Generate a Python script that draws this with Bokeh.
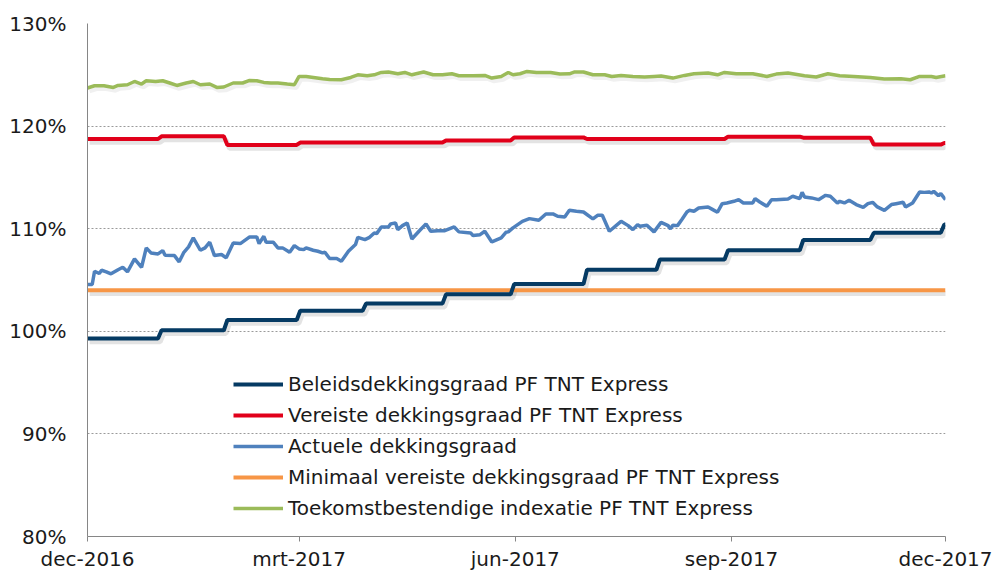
import pandas as pd
from bokeh.plotting import figure
from bokeh.models import (ColumnDataSource, Legend, LegendItem, FixedTicker,
                          PrintfTickFormatter, Range1d, CustomJSTickFormatter)
from bokeh.transform import dodge
from bokeh.embed import file_html
from bokeh.resources import INLINE

# ---------------- data ----------------
START = "2016-12-01"
END = "2017-12-01"
x_tick_dates = ["2016-12-01", "2017-03-01", "2017-06-01", "2017-09-01", "2017-12-01"]
x_tick_labels = ["dec-2016", "mrt-2017", "jun-2017", "sep-2017", "dec-2017"]
y_ticks = [80, 90, 100, 110, 120, 130]

# days after START where the monthly levels change
step_days = [30, 58, 89, 117, 151, 180, 211, 242, 271, 303, 333, 363]
beleid = [99.3, 100.1, 101.1, 102.0, 102.7, 103.6, 104.6, 106.0, 107.0, 107.9, 108.9, 109.6, 110.4]
vereist = [118.74, 119.0, 118.16, 118.4, 118.4, 118.6, 118.9, 118.74, 118.74, 118.97, 118.87, 118.2, 118.35]
minimaal = 104.0

actuele_days = [0, 2, 3, 5, 6, 8, 10, 13, 15, 17, 20, 23, 25, 27, 30, 32, 33, 37, 39, 41,
                43, 45, 48, 50, 52, 54, 57, 59, 62, 65, 69, 72, 73, 75, 76, 79, 81, 83, 86, 88,
                90, 92, 93, 96, 98, 100, 101, 103, 106, 108, 111, 114, 115, 118, 120, 122, 123, 125, 128, 129,
                131, 132, 134, 136, 138, 141, 144, 146, 149, 152, 156, 158, 163, 164, 167, 169, 172, 176, 178, 179,
                181, 185, 188, 192, 195, 198, 200, 203, 205, 208, 211, 215, 217, 219, 222, 227, 230, 232, 234, 235,
                238, 241, 244, 247, 248, 249, 251, 253, 255, 256, 258, 260, 264, 266, 268, 270, 272, 275, 277, 279,
                283, 284, 286, 289, 291, 293, 298, 300, 303, 304, 305, 308, 311, 314, 316, 319, 320, 322, 324, 327,
                330, 332, 334, 336, 339, 342, 344, 347, 348, 351, 354, 356, 358, 359, 360, 362, 363, 365]
actuele = [104.56, 104.56, 105.85, 105.63, 105.95, 105.8, 105.6, 106.0, 106.24, 105.8, 107.06, 106.24, 108.13, 107.64, 107.54, 107.87, 107.41, 107.38, 106.77, 107.7,
           108.23, 109.1, 107.9, 108.13, 108.68, 107.38, 107.48, 107.16, 108.6, 108.55, 109.2, 109.2, 108.55, 109.26, 108.68, 108.68, 108.13, 108.13, 107.7, 108.35,
           108.03, 107.96, 108.13, 107.9, 107.8, 107.64, 107.7, 107.09, 107.09, 106.83, 107.8, 108.45, 109.16, 108.94, 109.16, 109.59, 109.52, 110.17, 110.17, 110.47,
           110.56, 109.91, 110.3, 110.56, 109.0, 109.75, 110.47, 109.75, 109.81, 109.81, 110.17, 109.69, 109.59, 109.33, 109.42, 109.75, 108.71, 109.1, 109.65, 109.69,
           110.08, 110.72, 110.98, 110.82, 111.44, 111.44, 111.21, 111.15, 111.79, 111.7, 111.63, 110.95, 111.31, 111.31, 109.75, 110.72, 110.3, 109.91, 110.4, 110.24,
           110.33, 109.69, 110.62, 110.3, 109.98, 110.33, 110.3, 110.95, 111.63, 111.79, 111.7, 112.02, 112.12, 111.86, 111.6, 112.44, 112.51, 112.67, 112.83, 112.51,
           112.51, 112.93, 112.6, 112.18, 112.83, 112.83, 112.9, 113.16, 112.93, 113.54, 113.1, 113.0, 112.83, 113.25, 113.16, 112.51, 112.67, 112.51, 112.77, 112.35,
           112.08, 112.44, 112.57, 112.12, 111.79, 112.35, 112.44, 112.57, 112.12, 112.51, 113.58, 113.54, 113.58, 113.48, 113.64, 113.22, 113.42, 112.83]

toekomst_days = [0, 3, 7, 11, 13, 17, 20, 23, 25, 29, 32, 35, 38, 42, 45, 48, 52, 55, 58, 62,
                 66, 69, 72, 75, 78, 81, 85, 88, 90, 93, 100, 103, 108, 112, 115, 119, 122, 125, 128, 132,
                 135, 138, 143, 147, 151, 155, 158, 164, 169, 172, 176, 179, 181, 184, 187, 191, 197, 201, 205, 207,
                 211, 215, 220, 223, 227, 232, 237, 241, 244, 249, 254, 258, 264, 268, 271, 276, 283, 289, 293, 298,
                 305, 310, 315, 320, 326, 333, 339, 346, 350, 354, 359, 361, 365]
toekomst = [123.71, 123.93, 123.93, 123.77, 123.96, 124.03, 124.35, 124.1, 124.42, 124.35, 124.42, 124.2, 123.96, 124.2, 124.35, 124.03, 124.1, 123.77, 123.81, 124.2,
            124.2, 124.45, 124.42, 124.26, 124.2, 124.2, 124.1, 124.03, 124.84, 124.84, 124.62, 124.55, 124.52, 124.74, 125.0, 124.91, 125.0, 125.23, 125.27, 125.1,
            125.23, 125.0, 125.27, 125.0, 125.0, 125.1, 124.91, 124.91, 124.94, 124.68, 124.84, 125.23, 125.0, 125.1, 125.33, 125.23, 125.23, 125.07, 125.1, 125.27,
            125.27, 125.0, 125.0, 124.84, 124.94, 124.84, 124.78, 124.84, 124.88, 124.68, 124.94, 125.1, 125.17, 125.0, 125.23, 125.1, 125.1, 124.84, 125.07, 125.17,
            124.91, 124.78, 125.1, 124.91, 124.84, 124.74, 124.58, 124.62, 124.52, 124.84, 124.84, 124.74, 124.91]

series_names = ["Beleidsdekkingsgraad PF TNT Express",
                "Vereiste dekkingsgraad PF TNT Express",
                "Actuele dekkingsgraad",
                "Minimaal vereiste dekkingsgraad PF TNT Express",
                "Toekomstbestendige indexatie PF TNT Express"]

# ---------------- helpers ----------------
start = pd.Timestamp(START)


def to_dates(days):
    return start + pd.to_timedelta(days, unit="D")


def step_source(levels, ramp=1.5):
    xs, ys = [0.0], [levels[0]]
    for i, d in enumerate(step_days):
        xs += [d, d + ramp]
        ys += [levels[i], levels[i + 1]]
    xs.append(365.0)
    ys.append(levels[-1])
    return ColumnDataSource(dict(x=to_dates(xs), y=ys))


src_beleid = step_source(beleid)
src_vereist = step_source(vereist)
src_min = ColumnDataSource(dict(x=to_dates([0, 365]), y=[minimaal, minimaal]))
src_act = ColumnDataSource(dict(x=to_dates(actuele_days), y=actuele))
src_toek = ColumnDataSource(dict(x=to_dates(toekomst_days), y=toekomst))

# ---------------- figure ----------------
FONT = "DejaVu Sans"
p = figure(width=993, height=573, output_backend="svg", toolbar_location=None,
           x_axis_type="datetime",
           x_range=Range1d(pd.Timestamp(START), pd.Timestamp(END)),
           y_range=Range1d(80, 130),
           min_border_left=87, min_border_right=48, min_border_top=23, min_border_bottom=37)
p.outline_line_color = None
p.background_fill_color = "white"

p.xgrid.grid_line_color = None
p.ygrid.grid_line_color = "#9a9a9a"
p.ygrid.grid_line_dash = "2 2"
p.ygrid.grid_line_width = 1

# axes
p.yaxis.ticker = FixedTicker(ticks=y_ticks)
p.yaxis.formatter = PrintfTickFormatter(format="%d%%")
p.yaxis.major_tick_out = 0
p.yaxis.major_tick_in = 0
p.yaxis.minor_tick_out = 0
p.yaxis.minor_tick_in = 0
p.yaxis.major_label_standoff = 21
p.yaxis.axis_line_color = "#868686"

tick_ms = [pd.Timestamp(d).value / 1e6 for d in x_tick_dates]
p.xaxis.ticker = FixedTicker(ticks=tick_ms)
p.xaxis.formatter = CustomJSTickFormatter(args=dict(vals=tick_ms, labs=x_tick_labels), code="""
    for (let i = 0; i < vals.length; i++) {
        if (Math.abs(vals[i] - tick) < 86400000) { return labs[i]; }
    }
    return '';
""")
p.xaxis.major_tick_out = 5
p.xaxis.major_tick_in = 0
p.xaxis.minor_tick_out = 0
p.xaxis.minor_tick_in = 0
p.xaxis.major_label_standoff = 5
p.xaxis.axis_line_color = "#868686"
p.xaxis.major_tick_line_color = "#868686"

for ax in (p.xaxis, p.yaxis):
    ax.major_label_text_font = FONT
    ax.major_label_text_font_size = "20px"
    ax.major_label_text_color = "#1a1a1a"

# shadows
sh_dx = 0.9 * 86400000
sh_dy = -0.32
for src in (src_min, src_vereist, src_beleid):
    p.line(x=dodge("x", sh_dx, range=p.x_range), y=dodge("y", sh_dy, range=p.y_range),
           source=src, line_color="#000000", line_alpha=0.11, line_width=5)
p.line(x=dodge("x", sh_dx, range=p.x_range), y=dodge("y", sh_dy, range=p.y_range),
       source=src_toek, line_color="#000000", line_alpha=0.06, line_width=4)

# series
COLORS = ["#053A63", "#E1001A", "#4F81BD", "#F79646", "#9BBB59"]
r_toek = p.line("x", "y", source=src_toek, line_color=COLORS[4], line_width=3.5)
r_min = p.line("x", "y", source=src_min, line_color=COLORS[3], line_width=4)
r_vereist = p.line("x", "y", source=src_vereist, line_color=COLORS[1], line_width=4)
r_act = p.line("x", "y", source=src_act, line_color=COLORS[2], line_width=3.5)
r_beleid = p.line("x", "y", source=src_beleid, line_color=COLORS[0], line_width=4)

renderers = [r_beleid, r_vereist, r_act, r_min, r_toek]
legend = Legend(items=[LegendItem(label=n, renderers=[r]) for n, r in zip(series_names, renderers)],
                location=(146, 16), glyph_width=50, glyph_height=20, label_height=20,
                label_standoff=5, spacing=7, padding=0, margin=0,
                border_line_color=None, background_fill_alpha=0,
                label_text_font=FONT, label_text_font_size="20px", label_text_color="#1a1a1a")
p.add_layout(legend)

open("out.html", "w").write(file_html(p, INLINE))
